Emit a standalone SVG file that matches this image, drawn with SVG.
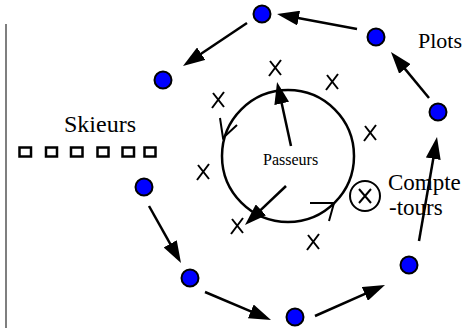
<svg xmlns="http://www.w3.org/2000/svg" width="464" height="328" viewBox="0 0 464 328">
<style>
.dot{fill:#0000ff;stroke:#000;stroke-width:2}
.arr{stroke:#000;stroke-width:2.5;fill:none;marker-end:url(#ah)}
.x{stroke:#000;stroke-width:2;fill:none}
.t{fill:#000}
.sq{fill:none;stroke:#000;stroke-width:2.5}
</style>
<defs>
<marker id="ah" markerUnits="userSpaceOnUse" markerWidth="22" markerHeight="15" refX="2" refY="7.5" orient="auto" viewBox="0 0 22 15">
<path d="M0,0 L22,7.5 L0,15 z" fill="#000"/>
</marker>
</defs>
<rect width="464" height="328" fill="#fff"/>
<line x1="6" y1="24" x2="6" y2="328" stroke="#555" stroke-width="1.5"/>

<g id="passeurs">
<circle cx="288" cy="156" r="66" fill="none" stroke="#000" stroke-width="2.5"/>
<path class="x" d="M220,118 L223,138 L237,125"/>
<path class="x" d="M310,203 L334,203 L329,221"/>
<text class="t" x="263" y="165" font-size="16" font-family="'Liberation Serif', 'Times New Roman', serif">Passeurs</text>
</g>

<g id="marks">
<path class="x" d="M269,76 L281,60 M270,61 L281,75"/>
<path class="x" d="M212,108 L224,92 M213,93 L224,107"/>
<path class="x" d="M326,90 L338,74 M327,75 L338,89"/>
<path class="x" d="M364,141 L376,125 M365,126 L376,140"/>
<path class="x" d="M197,180 L209,164 M198,165 L209,179"/>
<path class="x" d="M231,234 L243,218 M232,219 L243,233"/>
<path class="x" d="M307,250 L319,234 M308,235 L319,249"/>
</g>

<g id="compte-tours">
<circle cx="365" cy="196" r="15" fill="none" stroke="#000" stroke-width="2"/>
<path class="x" d="M359,203 L371,189 M359,189 L371,203"/>
<text class="t" x="388" y="190" font-size="23" font-family="'Liberation Serif', 'Times New Roman', serif">Compte</text>
<text class="t" x="389" y="215" font-size="23" font-family="'Liberation Serif', 'Times New Roman', serif">-tours</text>
</g>

<g id="skieurs">
<text class="t" x="64" y="132" font-size="24" font-family="'Liberation Serif', 'Times New Roman', serif">Skieurs</text>
<rect class="sq" x="19.5" y="147.5" width="11.5" height="9"/>
<rect class="sq" x="46" y="147.5" width="11" height="9"/>
<rect class="sq" x="71" y="147.5" width="11.5" height="9"/>
<rect class="sq" x="97.5" y="147.5" width="11" height="9"/>
<rect class="sq" x="122.5" y="147.5" width="11.5" height="9"/>
<rect class="sq" x="144.5" y="147.5" width="11" height="9"/>
</g>

<g id="plots">
<text class="t" x="418" y="48" font-size="22" font-family="'Liberation Serif', 'Times New Roman', serif">Plots</text>
<circle id="plot1" class="dot" cx="262" cy="14" r="8.5"/>
<circle id="plot2" class="dot" cx="376" cy="37" r="8.5"/>
<circle id="plot3" class="dot" cx="438" cy="112" r="8.5"/>
<circle id="plot4" class="dot" cx="163" cy="80" r="8.5"/>
<circle id="plot5" class="dot" cx="144" cy="187" r="8.5"/>
<circle id="plot6" class="dot" cx="190" cy="278" r="8.5"/>
<circle id="plot7" class="dot" cx="295" cy="317" r="8.5"/>
<circle id="plot8" class="dot" cx="409" cy="265" r="8.5"/>
</g>

<g id="connectors">
<line class="arr" x1="357" y1="29" x2="296.7" y2="17.7"/>
<line class="arr" x1="247" y1="23" x2="199.6" y2="54.8"/>
<line class="arr" x1="429" y1="98" x2="403.7" y2="67.4"/>
<line class="arr" x1="419" y1="241" x2="433.6" y2="156.7"/>
<line class="arr" x1="149" y1="206" x2="171.2" y2="245.6"/>
<line class="arr" x1="205" y1="292" x2="252.6" y2="312.2"/>
<line class="arr" x1="315" y1="316" x2="366.7" y2="293.1"/>
<line class="arr" x1="291" y1="146" x2="281.3" y2="101.5"/>
<line class="arr" x1="286" y1="186" x2="259.5" y2="211.2"/>
</g>
</svg>
